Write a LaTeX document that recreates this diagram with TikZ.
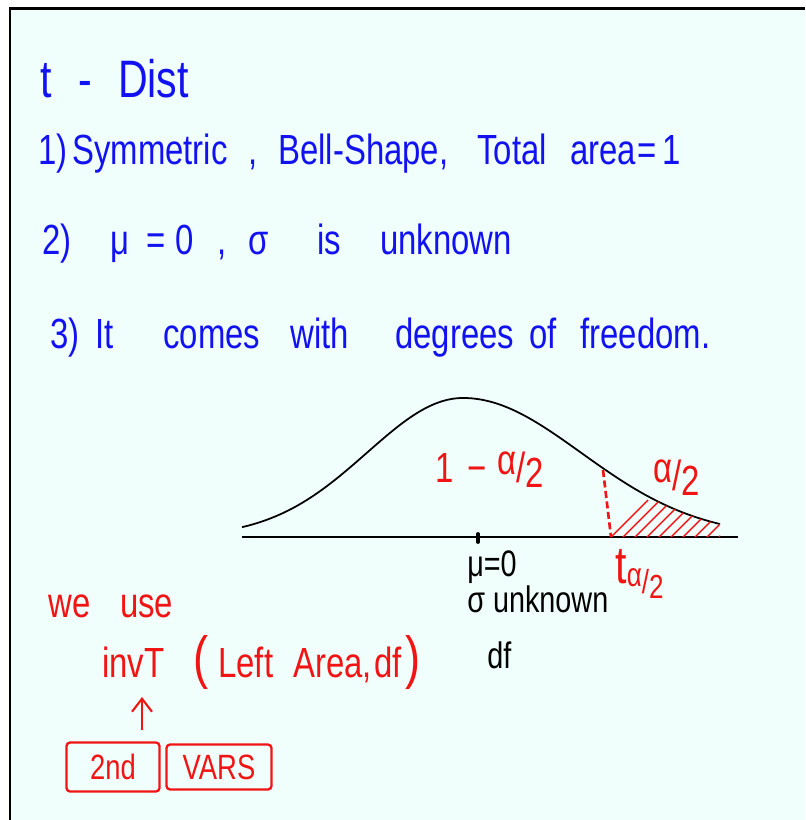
\documentclass[tikz,border=0pt]{standalone}
\usepackage{fontspec}
\usetikzlibrary{arrows.meta}
\newfontfamily\hand[FakeStretch=0.78]{Liberation Sans}
\definecolor{pmint}{HTML}{F0FFFB}
\definecolor{dblue}{HTML}{1212F0}
\definecolor{dred}{HTML}{F01414}
\newcommand{\ahalf}{\raisebox{4pt}{α}/\raisebox{-3pt}{2}}
\newcommand{\bigparen}[1]{{\fontsize{33}{33}\selectfont #1}}
\tikzset{
  hand/.style={font=\hand\fontsize{24}{28}\selectfont,inner sep=0pt,anchor=base west},
  big/.style={font=\hand\fontsize{30}{32}\selectfont},
  small/.style={font=\hand\fontsize{21}{24}\selectfont},
  key/.style={draw=dred,text=dred,line width=1.3pt,rounded corners=2pt,inner sep=0pt,
              font=\hand\fontsize{20}{22}\selectfont},
  curve/.style={line width=1pt,black},
  arr/.style={-{Straight Barb[length=2.6mm,width=4mm]},line width=1.2pt,dred},
}
\begin{document}
\begin{tikzpicture}[x=0.02cm,y=-0.02cm,
  declare function={bu(\t)=(\t-463)/((\t<463)?96:118);
                    bell(\t)=537-139*exp(-0.5*bu(\t)*bu(\t));}]
\useasboundingbox (0,0) rectangle (805,820);
% paper
\fill[white] (0,0) rectangle (805,820);
\fill[pmint] (10,9) rectangle (805,820);
\draw[line width=1.7pt] (10,820) -- (10,9) -- (805,9);
% notes
\node[hand,big,dblue] (title) at (40,98) {t\hspace{15pt}-\hspace{15pt}Dist};
\foreach \x/\w [count=\i] in {38/{1)},72/Symmetric,248/{,},278/{Bell-Shape,},477/Total,570/area,637/{=},662/1}
  \node[hand,dblue] (one\i) at (\x,165) {\w};
\foreach \x/\w [count=\i] in {42/{2)},110/μ,146/{=},175/0,217/{,},248/σ,317/is,380/unknown}
  \node[hand,dblue] (two\i) at (\x,255) {\w};
\foreach \x/\w [count=\i] in {50/{3)},95/It,163/comes,290/with,395/degrees,529/of,580/{freedom.}}
  \node[hand,dblue] (three\i) at (\x,348) {\w};
% bell curve
\draw[curve] plot[domain=242:720,samples=80,smooth] (\x,{bell(\x)});
\draw[curve] (242,537) -- (738,537);
\draw[line width=2.2pt,line cap=round] (478,534) -- (478,542);
\begin{scope}
  \clip (607,537) -- plot[domain=607:720,samples=20] (\x,{bell(\x)}) -- (720,537) -- cycle;
  \foreach \k in {0,...,9}
    \draw[dred,line width=0.8pt] (603+\k*12,545) -- ++(45,-45);
\end{scope}
\draw[dred,line width=1.5pt,dash pattern=on 4pt off 2pt] (603,470) -- (611,537);
\node[hand,dred] (inner) at (435,482) {1\hspace{8pt}−\hspace{6pt}\ahalf};
\node[hand,dred] (tail) at (653,490) {\ahalf};
\node[hand,small] (mu) at (467,576) {μ=0};
\node[hand,small] (sig) at (467,612) {σ unknown};
\node[hand,small] (df) at (487,668) {df};
\node[hand,big,dred] (tcrit) at (615,583) {t\raisebox{-6pt}{\fontsize{19}{20}\selectfont\ahalf}};
% calculator
\node[hand,dred] (weuse) at (48,617) {we\hspace{17pt}use};
\foreach \x/\w [count=\i] in {102/invT,193/{\bigparen{(}},218/Left,293/{Area,},374/df,405/{\bigparen{)}}}
  \node[hand,dred] (inv\i) at (\x,677) {\w};
\node[key,minimum width=1.86cm,minimum height=0.98cm] (k2nd) at (113,767) {2nd};
\node[key,minimum width=2.1cm,minimum height=0.9cm] (kvars) at (219,767) {VARS};
\coordinate (abot) at (142,730);
\coordinate (atop) at (142,697);
\draw[arr] (abot) -- (atop);
\end{tikzpicture}
\end{document}
